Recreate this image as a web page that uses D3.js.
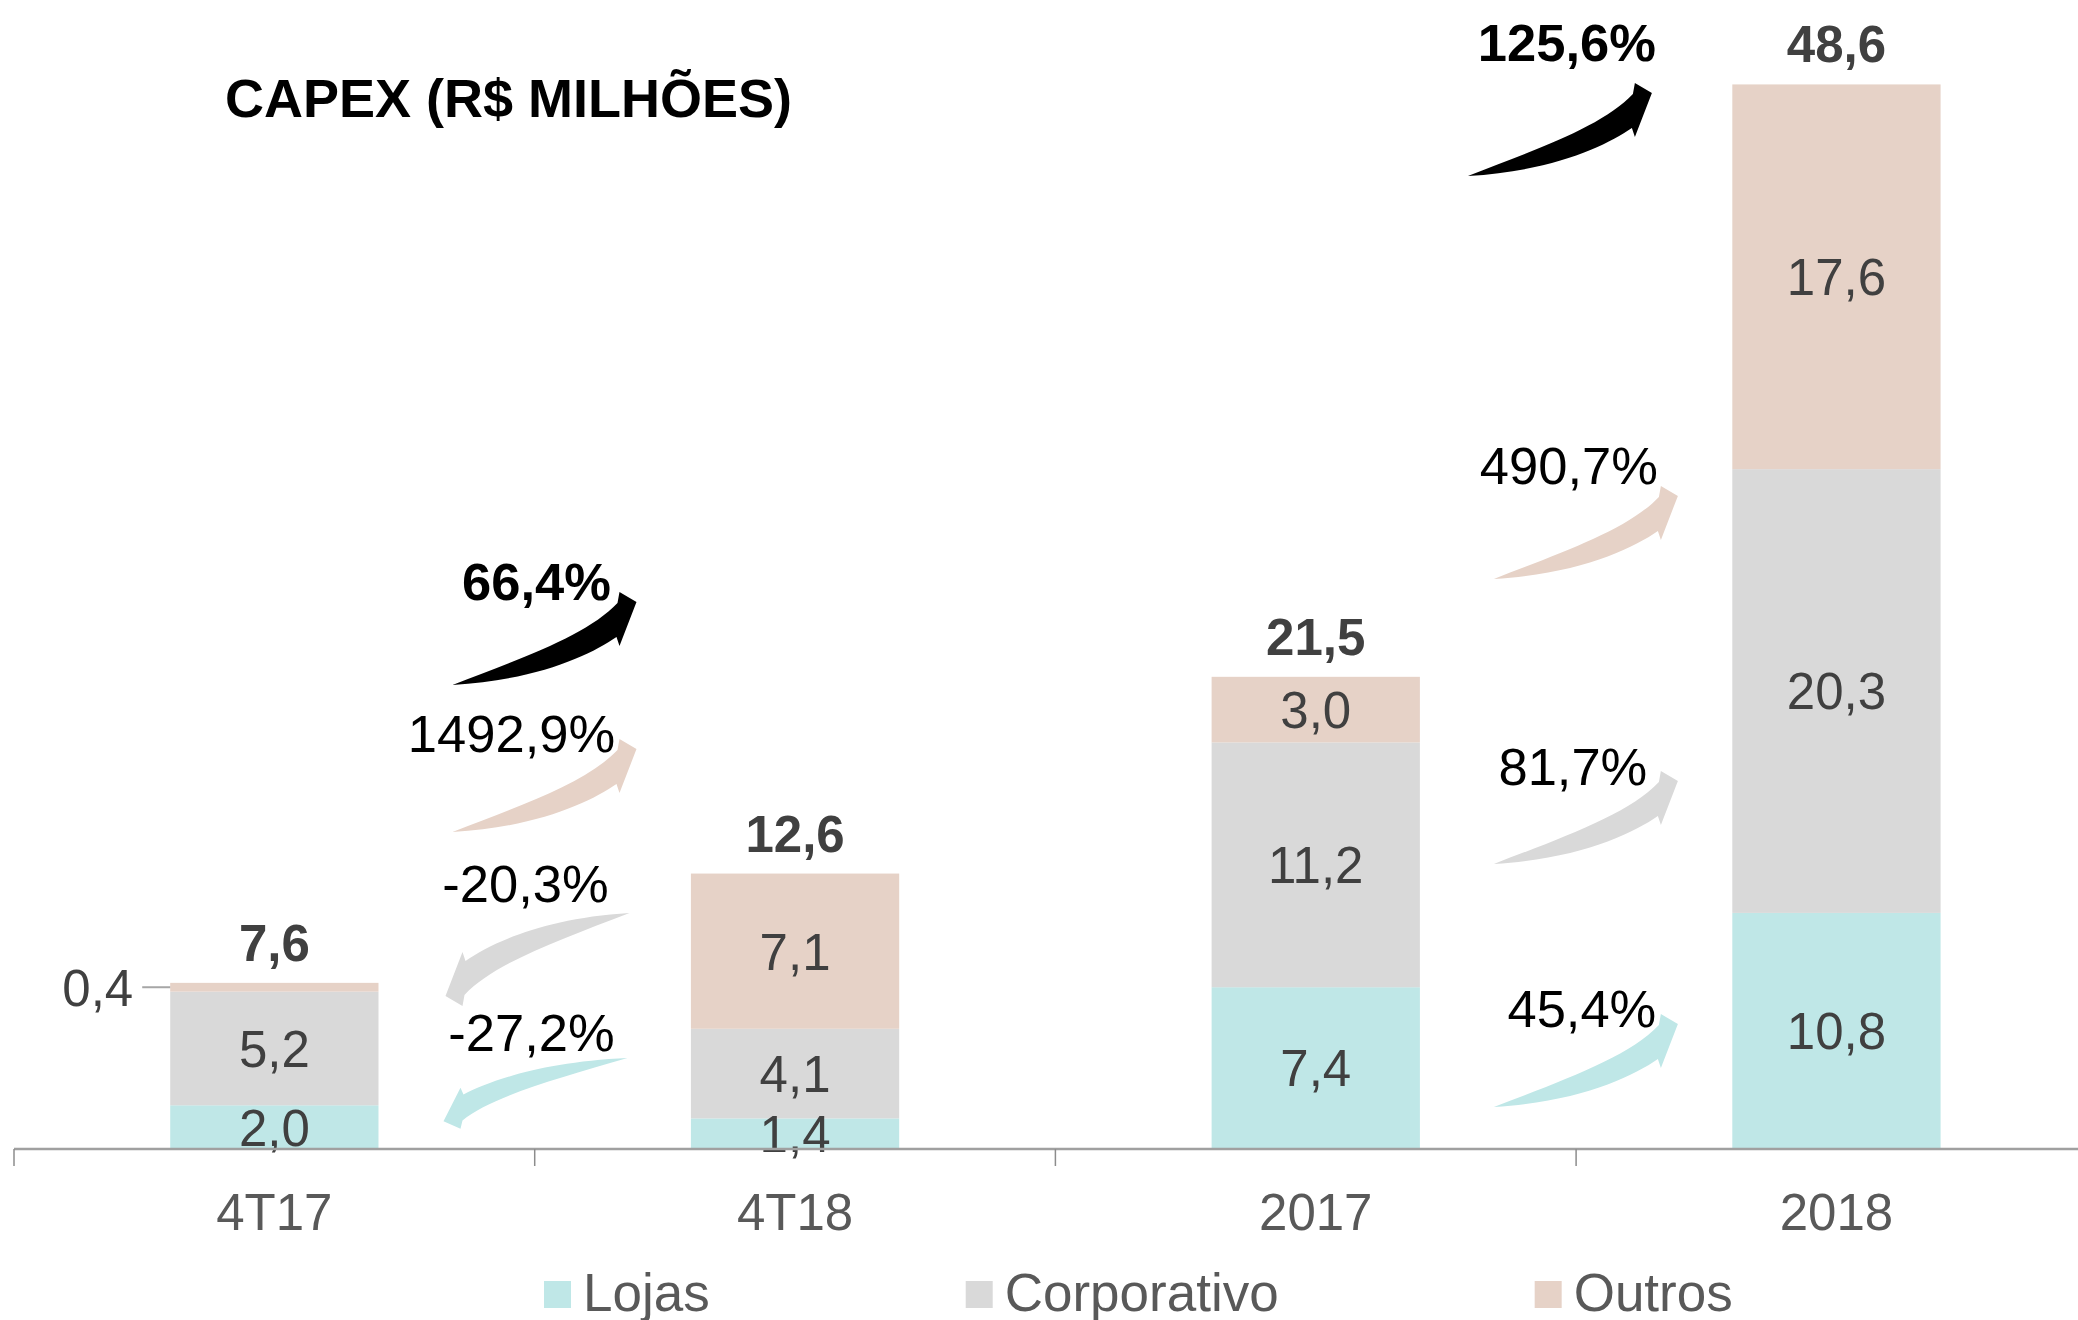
<!DOCTYPE html>
<html>
<head>
<meta charset="utf-8">
<script src="https://cdn.jsdelivr.net/npm/d3@7"></script>
<style>
  html, body { margin: 0; padding: 0; background: #fff; }
  svg { display: block; }
  text { font-family: "Liberation Sans", Arial, sans-serif; }
</style>
</head>
<body>
<svg id="chart" width="2078" height="1320"></svg>
<script>
// ---------- DATA ----------
const categories = ["4T17", "4T18", "2017", "2018"];
const seriesNames = ["Lojas", "Corporativo", "Outros"];
const lojas       = [2.0, 1.4, 7.4, 10.8];
const corporativo = [5.2, 4.1, 11.2, 20.3];
const outros      = [0.4, 7.1, 3.0, 17.6];
const totals      = [7.6, 12.6, 21.5, 48.6];
const seriesColors = ["#BFE7E7", "#D9D9D9", "#E6D2C7"];
const chartTitle = "CAPEX (R$ MILHÕES)";

// growth annotations: [from, to, series, growth %]
const growthFrom   = ["4T17", "4T17", "4T18", "4T18", "2017", "2017", "2017", "2017"];
const growthTo     = ["4T18", "4T18", "4T17", "4T17", "2018", "2018", "2018", "2018"];
const growthSeries = ["Total", "Outros", "Corporativo", "Lojas", "Total", "Outros", "Corporativo", "Lojas"];
const growthValues = [66.4, 1492.9, -20.3, -27.2, 125.6, 490.7, 81.7, 45.4];

// ---------- LAYOUT (annotation placement, not data) ----------
const arrowTailDx   = [74, 74, 251, 249, 48, 74, 74, 74];
const arrowLevel    = [21.23, 14.50, 10.80, 4.16, 44.51, 26.08, 13.04, 1.92];
const arrowScaleY   = [1, 1, 1, 0.76, 1, 1, 1, 1];
const labelDx       = [84, 59, -104, -96, 99, 75, 79, 88];
const labelDy       = [-85, -80, -11, -7, -115, -95, -79, -80];

(function () {
const W = 2078, H = 1320;
const baseY = 1149;
const svg = d3.select("#chart");

const locale = d3.formatLocale({decimal: ",", thousands: ".", grouping: [3], currency: ["R$", ""], minus: "-"});
const fmt = locale.format(".1f");

const x = d3.scaleBand().domain(categories).range([14, 14 + 4 * 520.7]).padding(0);
const y = d3.scaleLinear().domain([0, 50]).range([baseY, baseY - 50 * 21.86]);
const barW = x.bandwidth() * 0.4;
const barX = c => x(c) + (x.bandwidth() - barW) / 2;
const color = d3.scaleOrdinal().domain(seriesNames).range(seriesColors);

const rows = categories.map((c, i) => ({cat: c, Lojas: lojas[i], Corporativo: corporativo[i], Outros: outros[i]}));
const stacked = d3.stack().keys(seriesNames)(rows);

svg.append("text").attr("x", 225).attr("y", 117)
  .attr("font-size", 54).attr("font-weight", "bold").attr("fill", "#000")
  .text(chartTitle);

const gBars = svg.append("g");
stacked.forEach(layer => {
  gBars.selectAll(null).data(layer).enter().append("rect")
    .attr("x", d => barX(d.data.cat))
    .attr("width", barW)
    .attr("y", d => y(d[1]))
    .attr("height", d => y(d[0]) - y(d[1]))
    .attr("fill", color(layer.key));
});

const segFs = 51;
stacked.forEach(layer => {
  layer.forEach(d => {
    const v = d[1] - d[0];
    const mid = (y(d[0]) + y(d[1])) / 2;
    if (v < 1) {
      const bx = barX(d.data.cat);
      svg.append("line").attr("x1", bx - 28).attr("x2", bx).attr("y1", mid).attr("y2", mid)
        .attr("stroke", "#A6A6A6").attr("stroke-width", 2);
      svg.append("text").attr("x", bx - 37).attr("y", mid + 0.36 * segFs)
        .attr("text-anchor", "end").attr("font-size", segFs).attr("fill", "#404040")
        .text(fmt(v));
    } else {
      svg.append("text").attr("x", barX(d.data.cat) + barW / 2).attr("y", mid + 0.36 * segFs)
        .attr("text-anchor", "middle").attr("font-size", segFs).attr("fill", "#404040")
        .text(fmt(v));
    }
  });
});

const topLayer = stacked[stacked.length - 1];
categories.forEach((c, i) => {
  svg.append("text").attr("x", barX(c) + barW / 2).attr("y", y(topLayer[i][1]) - 22)
    .attr("text-anchor", "middle").attr("font-size", 51).attr("font-weight", "bold")
    .attr("fill", "#404040").text(fmt(totals[i]));
});

svg.append("line").attr("x1", x(categories[0])).attr("x2", W).attr("y1", baseY).attr("y2", baseY)
  .attr("stroke", "#A0A0A0").attr("stroke-width", 2.5);
categories.forEach(c => {
  svg.append("line").attr("x1", x(c)).attr("x2", x(c)).attr("y1", baseY).attr("y2", baseY + 17)
    .attr("stroke", "#8C8C8C").attr("stroke-width", 1.5);
  svg.append("text").attr("x", x(c) + x.bandwidth() / 2).attr("y", 1230)
    .attr("text-anchor", "middle").attr("font-size", 51).attr("fill", "#595959").text(c);
});

const arrowD = "M0,0 C70,-27 135,-50 165,-82 L167,-93 L184,-83 L167,-39 L164,-48 C138,-30 85,-5 0,0 Z";
growthValues.forEach((g, i) => {
  const left = categories.indexOf(growthFrom[i]) < categories.indexOf(growthTo[i]) ? growthFrom[i] : growthTo[i];
  const tx = barX(left) + barW + arrowTailDx[i];
  const ty = y(arrowLevel[i]);
  const isTotal = growthSeries[i] === "Total";
  const fill = isTotal ? "#000" : color(growthSeries[i]);
  const rot = g < 0 ? " rotate(180)" : "";
  svg.append("path").attr("d", arrowD)
    .attr("transform", `translate(${tx},${ty}) scale(1,${arrowScaleY[i]})${rot}`)
    .attr("fill", fill);
  svg.append("text").attr("x", tx + labelDx[i]).attr("y", ty + labelDy[i])
    .attr("text-anchor", "middle").attr("font-size", 52.5)
    .attr("font-weight", isTotal ? "bold" : "normal").attr("fill", "#000")
    .text(fmt(g) + "%");
});

let lx = 544;
seriesNames.forEach(s => {
  svg.append("rect").attr("x", lx).attr("y", 1281).attr("width", 27).attr("height", 27).attr("fill", color(s));
  const t = svg.append("text").attr("x", lx + 39).attr("y", 1311).attr("font-size", 53)
    .attr("fill", "#595959").text(s);
  lx = lx + 39 + t.node().getComputedTextLength() + 256;
});
})();
</script>
</body>
</html>
